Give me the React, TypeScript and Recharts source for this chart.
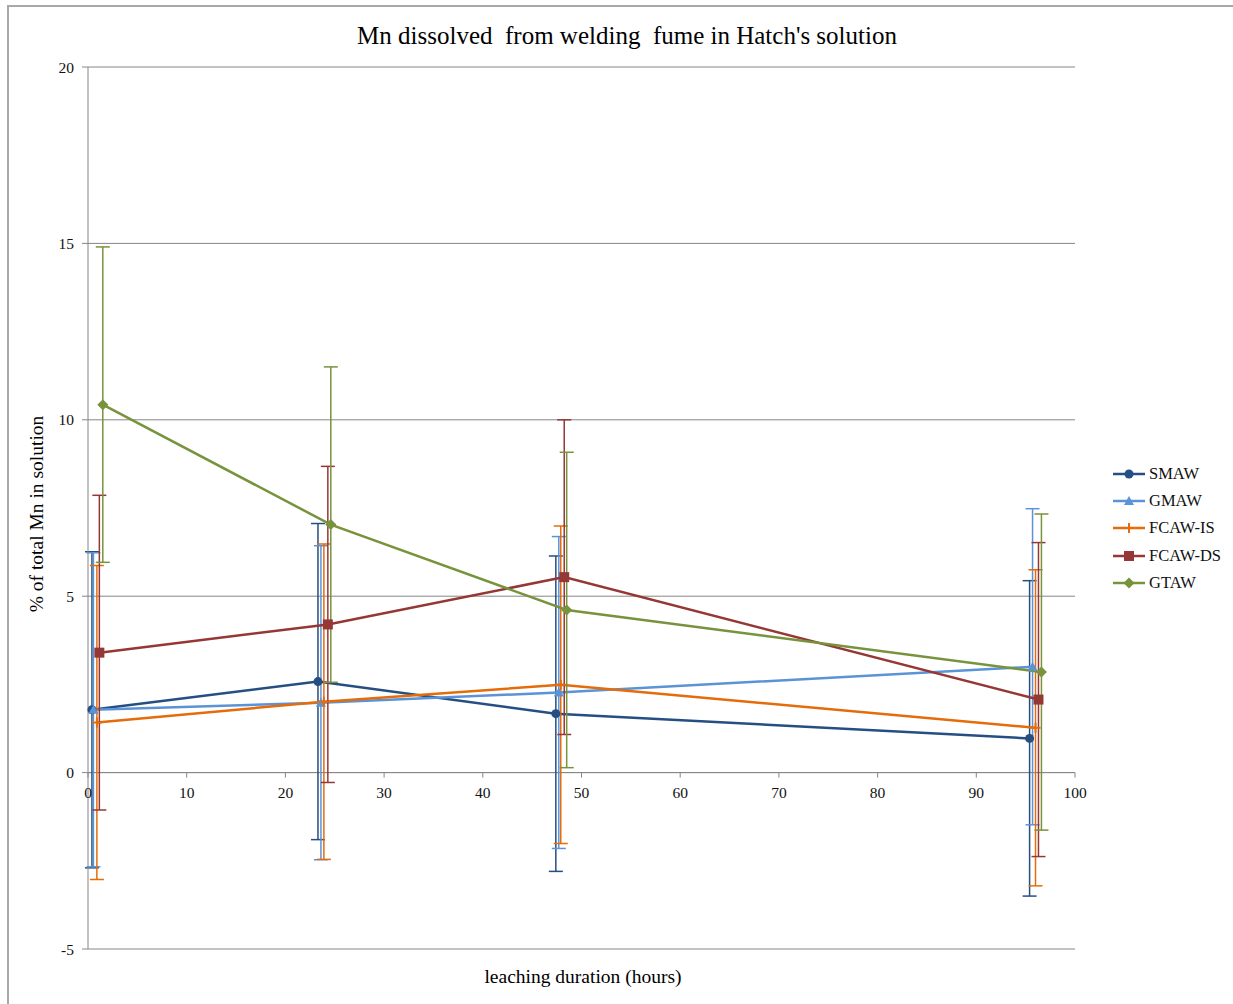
import { LineChart, Line, XAxis, YAxis, CartesianGrid, ErrorBar, ReferenceLine } from 'recharts';

// leaching time (h) per series - Excel offsets each series a little on the x axis
const smawHours = [0.4, 23.3, 47.4, 95.4];
const gmawHours = [0.55, 23.6, 47.7, 95.7];
const fcawIsHours = [0.9, 23.9, 47.9, 96.0];
const fcawDsHours = [1.15, 24.3, 48.25, 96.3];
const gtawHours = [1.5, 24.6, 48.5, 96.6];

// % of total Mn in solution
const smawPct = [1.78, 2.58, 1.67, 0.97];
const gmawPct = [1.78, 1.98, 2.27, 3.0];
const fcawIsPct = [1.42, 2.01, 2.49, 1.27];
const fcawDsPct = [3.4, 4.2, 5.54, 2.07];
const gtawPct = [10.43, 7.03, 4.61, 2.85];

// +/- error
const smawErr = [4.48, 4.48, 4.47, 4.47];
const gmawErr = [4.45, 4.45, 4.42, 4.48];
const fcawIsErr = [4.45, 4.47, 4.5, 4.48];
const fcawDsErr = [4.46, 4.48, 4.46, 4.45];
const gtawErr = [4.47, 4.47, 4.47, 4.48];

const xTicks = [0, 10, 20, 30, 40, 50, 60, 70, 80, 90, 100];
const yTicks = [-5, 0, 5, 10, 15, 20];

const Y_MIN = -5;
const Y_MAX = 20;
const PLOT = { left: 88, top: 67, right: 1075, bottom: 949 };
const W = 1233;
const H = 1004;
const FONT = '"Liberation Serif", "Times New Roman", serif';
const GRID = '#868686';

type Shape = 'circle' | 'triangle' | 'plus' | 'square' | 'diamond';

const build = (xs: number[], ys: number[], es: number[]) =>
  xs.map((x, i) => ({ x, y: ys[i], err: es[i] }));

const series = [
  { name: 'SMAW', color: '#254E82', shape: 'circle' as Shape, data: build(smawHours, smawPct, smawErr) },
  { name: 'GMAW', color: '#5B93D7', shape: 'triangle' as Shape, data: build(gmawHours, gmawPct, gmawErr) },
  { name: 'FCAW-IS', color: '#E46C0A', shape: 'plus' as Shape, data: build(fcawIsHours, fcawIsPct, fcawIsErr) },
  { name: 'FCAW-DS', color: '#953735', shape: 'square' as Shape, data: build(fcawDsHours, fcawDsPct, fcawDsErr) },
  { name: 'GTAW', color: '#77933C', shape: 'diamond' as Shape, data: build(gtawHours, gtawPct, gtawErr) },
];

function Marker({ cx, cy, shape, color }: { cx: number; cy: number; shape: Shape; color: string }) {
  if (shape === 'circle') return <circle cx={cx} cy={cy} r={4.5} fill={color} />;
  if (shape === 'triangle')
    return <polygon points={`${cx},${cy - 5} ${cx + 5},${cy + 4} ${cx - 5},${cy + 4}`} fill={color} />;
  if (shape === 'plus')
    return (
      <g stroke={color} strokeWidth={2}>
        <line x1={cx - 5} x2={cx + 5} y1={cy} y2={cy} />
        <line x1={cx} x2={cx} y1={cy - 5} y2={cy + 5} />
      </g>
    );
  if (shape === 'square') return <rect x={cx - 5} y={cy - 5} width={10} height={10} fill={color} />;
  return <polygon points={`${cx},${cy - 5.5} ${cx + 5.5},${cy} ${cx},${cy + 5.5} ${cx - 5.5},${cy}`} fill={color} />;
}

// x axis sits on y = 0, not at the bottom of the plot
const zeroY = PLOT.top + ((PLOT.bottom - PLOT.top) * (Y_MAX - 0)) / (Y_MAX - Y_MIN);

function XTick(props: any) {
  const { x, payload } = props;
  return (
    <g>
      <line x1={x} x2={x} y1={zeroY} y2={zeroY + 5} stroke={GRID} />
      <text x={x} y={zeroY + 25} textAnchor="middle" fontFamily={FONT} fontSize={15.5} fill="#111">
        {payload.value}
      </text>
    </g>
  );
}

export default function App() {
  return (
    <div style={{ position: 'absolute', left: 0, top: 0, width: W, height: H, background: '#fff', fontFamily: FONT }}>
      {/* outer frame */}
      <div style={{ position: 'absolute', left: 7, top: 5, width: W, height: H, borderTop: '2px solid #a8a8a8', borderLeft: '2px solid #a8a8a8' }} />

      <div style={{ position: 'absolute', left: 27, top: 22, width: 1200, textAlign: 'center', fontSize: 25, whiteSpace: 'pre', color: '#000' }}>
        {"Mn dissolved  from welding  fume in Hatch's solution"}
      </div>
      <div style={{ position: 'absolute', left: 383, top: 966, width: 400, textAlign: 'center', fontSize: 19.5, color: '#000' }}>
        leaching duration (hours)
      </div>
      <div
        style={{
          position: 'absolute', left: 37, top: 514, width: 300, textAlign: 'center', fontSize: 19.5, color: '#000',
          transform: 'translate(-50%, -50%) rotate(-90deg)',
        }}
      >
        % of total Mn in solution
      </div>

      <LineChart
        width={W}
        height={H}
        margin={{ top: PLOT.top, right: W - PLOT.right, bottom: 0, left: 0 }}
        style={{ position: 'absolute', left: 0, top: 0 }}
      >
        <CartesianGrid vertical={false} stroke={GRID} />
        <XAxis
          type="number"
          dataKey="x"
          domain={[0, 100]}
          ticks={xTicks}
          height={H - PLOT.bottom}
          axisLine={false}
          tickLine={false}
          tick={<XTick />}
          interval={0}
        />
        <YAxis
          type="number"
          domain={[Y_MIN, Y_MAX]}
          ticks={yTicks}
          width={PLOT.left}
          stroke={GRID}
          tickSize={6}
          tickMargin={8}
          interval={0}
          tick={{ fontFamily: FONT, fontSize: 15.5, fill: '#111' }}
        />
        <ReferenceLine y={0} stroke={GRID} />
        {series.map((s) => (
          <Line
            key={s.name}
            data={s.data}
            dataKey="y"
            name={s.name}
            type="linear"
            stroke={s.color}
            strokeWidth={2.5}
            isAnimationActive={false}
            dot={(p: any) => <Marker key={`${s.name}-${p.index}`} cx={p.cx} cy={p.cy} shape={s.shape} color={s.color} />}
            activeDot={false}
          >
            <ErrorBar dataKey="err" direction="y" width={7} stroke={s.color} strokeWidth={1.5} isAnimationActive={false} />
          </Line>
        ))}
      </LineChart>

      {/* legend */}
      <div style={{ position: 'absolute', left: 1113, top: 460 }}>
        {series.map((s) => (
          <div key={s.name} style={{ display: 'flex', alignItems: 'center', height: 27.3, fontSize: 16.5, color: '#111' }}>
            <svg width={34} height={14} style={{ marginRight: 2 }}>
              <line x1={0} x2={32} y1={7} y2={7} stroke={s.color} strokeWidth={2.5} />
              <Marker cx={16} cy={7} shape={s.shape} color={s.color} />
            </svg>
            <span>{s.name}</span>
          </div>
        ))}
      </div>
    </div>
  );
}
